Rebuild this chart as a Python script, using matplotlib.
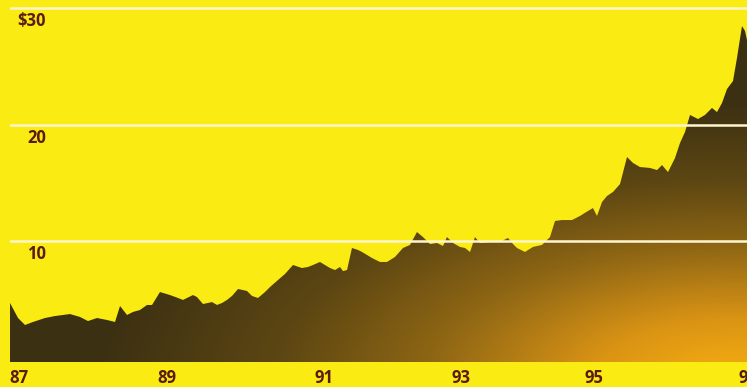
import numpy as np
import matplotlib
matplotlib.use("Agg")
import matplotlib.pyplot as plt
from matplotlib.colors import LinearSegmentedColormap

# ---- data (decimal year, price in $) ----
dates = [1987.000, 1987.109, 1987.204, 1987.312, 1987.475, 1987.611, 1987.814, 1987.950,
         1988.058, 1988.180, 1988.316, 1988.425, 1988.493, 1988.588, 1988.669, 1988.764,
         1988.859, 1988.927, 1989.035, 1989.171, 1989.280, 1989.347, 1989.483, 1989.537,
         1989.619, 1989.741, 1989.809, 1989.877, 1989.944, 1990.012, 1990.094, 1990.216,
         1990.284, 1990.365, 1990.460, 1990.528, 1990.636, 1990.731, 1990.840, 1990.962,
         1991.043, 1991.111, 1991.206, 1991.274, 1991.342, 1991.410, 1991.478, 1991.518,
         1991.573, 1991.640, 1991.722, 1991.776, 1991.844, 1991.912, 1992.020, 1992.115,
         1992.224, 1992.332, 1992.427, 1992.522, 1992.604, 1992.699, 1992.794, 1992.875,
         1992.929, 1993.011, 1993.106, 1993.174, 1993.242, 1993.309, 1993.377, 1993.513,
         1993.581, 1993.649, 1993.757, 1993.825, 1993.879, 1993.988, 1994.096, 1994.218,
         1994.327, 1994.395, 1994.490, 1994.626, 1994.734, 1994.843, 1994.910, 1994.965,
         1995.033, 1995.100, 1995.182, 1995.277, 1995.372, 1995.453, 1995.548, 1995.684,
         1995.779, 1995.847, 1995.928, 1996.023, 1996.091, 1996.159, 1996.227, 1996.335,
         1996.430, 1996.525, 1996.593, 1996.661, 1996.729, 1996.810, 1996.864, 1996.932,
         1996.973, 1997.000]
prices = [4.68, 3.39, 2.79, 3.05, 3.39, 3.56, 3.73, 3.48,
          3.13, 3.39, 3.22, 3.05, 4.42, 3.65, 3.91, 4.08,
          4.51, 4.51, 5.62, 5.36, 5.11, 4.94, 5.36, 5.19,
          4.59, 4.76, 4.51, 4.68, 4.94, 5.28, 5.88, 5.71,
          5.28, 5.11, 5.62, 6.05, 6.65, 7.17, 7.94, 7.68,
          7.77, 7.94, 8.20, 7.94, 7.68, 7.51, 7.77, 7.42,
          7.51, 9.40, 9.23, 9.06, 8.80, 8.54, 8.20, 8.20,
          8.63, 9.40, 9.66, 10.77, 10.34, 9.74, 9.83, 9.57,
          10.34, 9.83, 9.49, 9.40, 9.06, 10.34, 9.83, 9.91,
          9.91, 9.91, 10.26, 9.74, 9.40, 9.06, 9.49, 9.66,
          10.34, 11.72, 11.80, 11.80, 12.15, 12.58, 12.83, 12.15,
          13.35, 13.86, 14.21, 14.89, 17.21, 16.70, 16.35, 16.27,
          16.09, 16.52, 15.92, 17.12, 18.41, 19.36, 20.82, 20.47,
          20.82, 21.42, 21.07, 21.85, 23.05, 23.73, 25.71, 28.45,
          28.03, 27.25]

grid_values = [10, 20, 30]
grid_labels = ["10", "20", "$30"]
tick_positions = [1987.12, 1989.13, 1991.26, 1993.12, 1994.92, 1997.02]
tick_labels = ["87", "89", "91", "93", "95", "97"]

# ---- styling ----
W, H = 747, 387
BG = "#FAEB12"
LABEL = "#5A1C12"
GRID = "#FFF6CF"

fig = plt.figure(figsize=(W / 100, H / 100), dpi=100, facecolor=BG)
ax_left, ax_bottom_px = 10, 362
ax = fig.add_axes([ax_left / W, (H - ax_bottom_px) / H, (W - ax_left) / W, ax_bottom_px / H])
ax.set_facecolor(BG)
for s in ax.spines.values():
    s.set_visible(False)

y_lo, y_hi = -0.386, 30.687
ax.set_xlim(1987.0, 1997.0)
ax.set_ylim(y_lo, y_hi)
ax.set_xticks([])
ax.set_yticks([])

# area with gradient fill
poly = ax.fill_between(dates, prices, y_lo, facecolor="none", edgecolor="none")

nr, nc = ax_bottom_px, W - ax_left
px = ax_left + np.arange(nc)[None, :]
py = np.arange(nr)[:, None]
d = np.sqrt(((px - 735) / 640.0) ** 2 + ((py - 380) / 280.0) ** 2)
d = np.clip(d, 0, 1)
cmap = LinearSegmentedColormap.from_list(
    "grad",
    [(0.0, (247/255, 175/255, 16/255)),
     (0.22, (218/255, 148/255, 20/255)),
     (0.48, (142/255, 102/255, 20/255)),
     (0.72, (92/255, 70/255, 18/255)),
     (1.0, (60/255, 48/255, 18/255))])
im = ax.imshow(d, cmap=cmap, vmin=0, vmax=1, extent=[1987.0, 1997.0, y_lo, y_hi],
               origin="upper", aspect="auto", interpolation="bilinear", zorder=2)
im.set_clip_path(poly.get_paths()[0], ax.transData)

# gridlines on top
for v in grid_values:
    ax.axhline(v, color=GRID, lw=1.8, zorder=5)

# y labels
for v, lab in zip(grid_values, grid_labels):
    ax.annotate(lab, xy=(0.049, v), xycoords=("axes fraction", "data"),
                xytext=(0, -13 * 0.72), textcoords="offset points",
                ha="right", va="center", fontsize=12, fontweight="bold",
                color=LABEL, family="Open Sans", zorder=6)

# x labels
for t, lab in zip(tick_positions, tick_labels):
    ax.annotate(lab, xy=(t, 0), xycoords=("data", "axes fraction"),
                xytext=(0, -16 * 0.72), textcoords="offset points",
                ha="center", va="center", fontsize=12, fontweight="bold",
                color=LABEL, family="Open Sans", annotation_clip=False)

fig.savefig("out.png", dpi=100, facecolor=BG)
